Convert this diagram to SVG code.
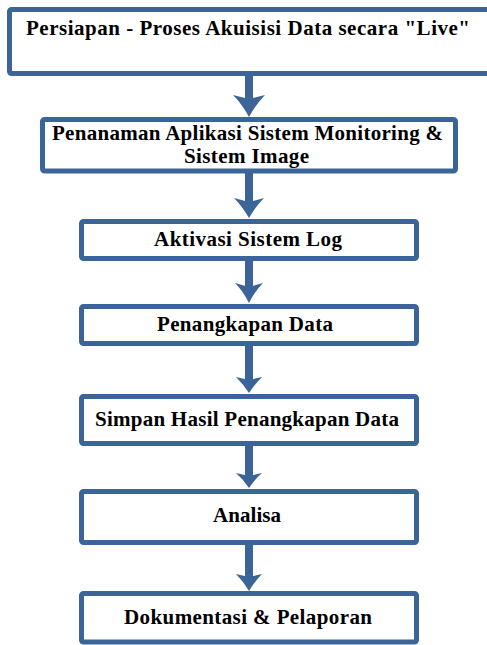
<svg xmlns="http://www.w3.org/2000/svg" width="487" height="645" viewBox="0 0 487 645">
<style>
.box{fill:#ffffff;stroke:#3b6598;stroke-width:5}
.lbl{font-family:"Liberation Serif","Times New Roman",serif;font-weight:bold;font-size:21px;fill:#000000}
.shaft{stroke:#3b6598;stroke-width:8;fill:none}
.head{fill:#3b6598}
</style>
<rect width="487" height="645" fill="#ffffff"/>
<g id="connectors">
  <line class="shaft" x1="249" y1="74" x2="249" y2="99"/>
  <path class="head" d="M233,95 L249,99 L265,95 Q256,104 249,117 Q242,104 233,95 Z"/>
  <line class="shaft" x1="249" y1="171" x2="249" y2="202"/>
  <path class="head" d="M234,198 L249,202 L264,198 Q256,206 249,218 Q242,206 234,198 Z"/>
  <line class="shaft" x1="249" y1="258" x2="249" y2="287"/>
  <path class="head" d="M235,283 L249,287 L263,283 Q255,291 249,303 Q243,291 235,283 Z"/>
  <line class="shaft" x1="249" y1="343" x2="249" y2="380"/>
  <path class="head" d="M236,377 L249,380 L262,377 Q255,384 249,393 Q243,384 236,377 Z"/>
  <line class="shaft" x1="249" y1="443" x2="249" y2="476"/>
  <path class="head" d="M236,473 L249,476 L262,473 Q255,479 249,488 Q243,479 236,473 Z"/>
  <line class="shaft" x1="249" y1="542" x2="249" y2="577"/>
  <path class="head" d="M236,574 L249,577 L262,574 Q255,581 249,591 Q243,581 236,574 Z"/>
</g>
<g id="node1">
  <rect class="box" x="9.5" y="9.5" width="490" height="64" rx="2"/>
  <text class="lbl" x="26" y="35" textLength="444">Persiapan - Proses Akuisisi Data secara "Live"</text>
</g>
<g id="node2">
  <rect class="box" x="42.5" y="119.5" width="413" height="51.5" rx="2"/>
  <text class="lbl" x="52" y="140" textLength="391">Penanaman Aplikasi Sistem Monitoring &amp;</text>
  <text class="lbl" x="184" y="163" textLength="125">Sistem Image</text>
</g>
<g id="node3">
  <rect class="box" x="81.5" y="221.5" width="335" height="37" rx="2"/>
  <text class="lbl" x="154" y="246" textLength="188">Aktivasi Sistem Log</text>
</g>
<g id="node4">
  <rect class="box" x="81.5" y="306.5" width="335" height="37" rx="2"/>
  <text class="lbl" x="157" y="331" textLength="176">Penangkapan Data</text>
</g>
<g id="node5">
  <rect class="box" x="81.5" y="396.5" width="335" height="47" rx="2"/>
  <text class="lbl" x="95" y="426" textLength="304">Simpan Hasil Penangkapan Data</text>
</g>
<g id="node6">
  <rect class="box" x="81.5" y="491.5" width="335" height="51" rx="2"/>
  <text class="lbl" x="213" y="522" textLength="68">Analisa</text>
</g>
<g id="node7">
  <rect class="box" x="81.5" y="593.5" width="335" height="48.5" rx="2"/>
  <text class="lbl" x="124" y="624" textLength="248">Dokumentasi &amp; Pelaporan</text>
</g>
</svg>
